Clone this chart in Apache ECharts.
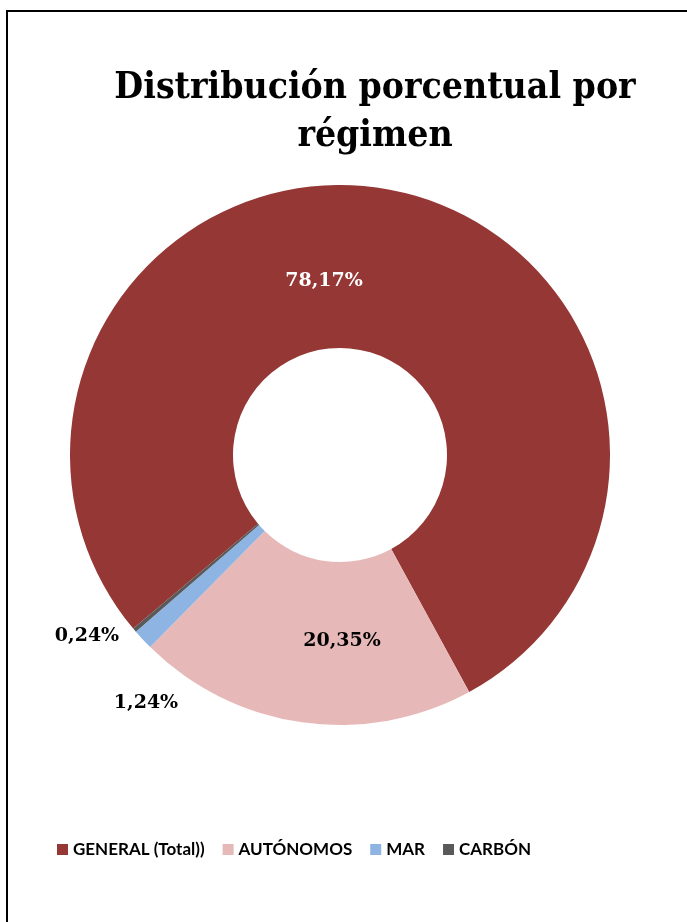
<!DOCTYPE html>
<html>
<head>
<meta charset="utf-8">
<script src="https://cdn.jsdelivr.net/npm/echarts@6/dist/echarts.min.js"></script>
<style>
	html,body{margin:0;padding:0;background:#fff;}
	#chart{width:687px;height:922px;}
</style>
</head>
<body>
<div id="chart"></div>
<script>
	// datos
	var categorias = ['GENERAL (Total))', 'AUTÓNOMOS', 'MAR', 'CARBÓN'];
	var porcentajes = [78.17, 20.35, 1.24, 0.24];
	var colores = ['#953735', '#E6B9B8', '#8EB4E3', '#595959'];

	// sitio de las etiquetas (como en el original de Excel)
	var etiquetaXY = [[324, 281], [342, 641], [146, 703], [87, 636]];
	var etiquetaColor = ['#ffffff', '#000000', '#000000', '#000000'];

	var data = [];
	for (var i = 0; i < categorias.length; i++) {
		data.push({
			name: categorias[i],
			value: porcentajes[i],
			itemStyle: {color: colores[i]},
			label: {color: etiquetaColor[i]}
		});
	}

	var chart = echarts.init(document.getElementById('chart'));
	var option = {
		animation: false,
		title: {
			text: 'Distribución porcentual por\nrégimen',
			left: 370,
			top: 59,
			textAlign: 'center',
			textStyle: {
				fontFamily: 'DejaVu Serif Condensed',
				fontWeight: 'bold',
				fontSize: 37,
				lineHeight: 48,
				color: '#000'
			}
		},
		legend: {
			left: 52,
			top: 836,
			itemWidth: 11,
			itemHeight: 11,
			itemGap: 18,
			icon: 'rect',
			selectedMode: false,
			data: categorias,
			textStyle: {
				fontFamily: 'Lato',
				fontWeight: 'bold',
				fontSize: 17,
				color: '#000'
			}
		},
		graphic: [{
			type: 'rect',
			shape: {x: 7, y: 11, width: 720, height: 960},
			style: {fill: 'none', stroke: '#000', lineWidth: 2},
			silent: true
		}],
		series: [{
			type: 'pie',
			center: [340, 455],
			radius: [107, 270],
			startAngle: 220,
			clockwise: true,
			avoidLabelOverlap: false,
			emphasis: {disabled: true},
			label: {
				show: true,
				position: 'inside',
				fontFamily: 'DejaVu Serif',
				fontWeight: 'bold',
				fontSize: 19,
				formatter: function (p) {
					return p.value.toFixed(2).replace('.', ',') + '%';
				}
			},
			labelLine: {show: false},
			labelLayout: function (p) {
				var xy = etiquetaXY[p.dataIndex];
				return {x: xy[0], y: xy[1], align: 'center', verticalAlign: 'middle'};
			},
			data: data
		}]
	};
	chart.setOption(option);
</script>
</body>
</html>
